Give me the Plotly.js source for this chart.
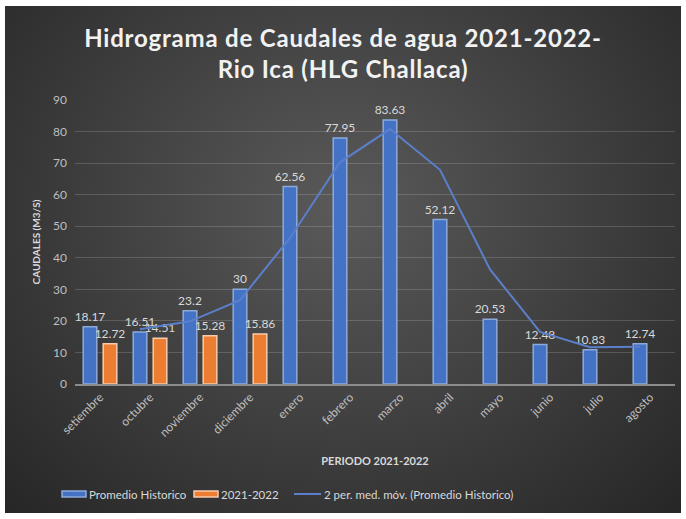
<!DOCTYPE html>
<html>
<head>
<meta charset="utf-8">
<script src="https://cdn.plot.ly/plotly-3.0.1.min.js"></script>
<style>
  html, body { margin: 0; padding: 0; background: #ffffff; }
  #wrap { position: relative; width: 686px; height: 519px; }
  #bg { position: absolute; left: 5px; top: 6px; right: 5px; bottom: 6px;
        background: radial-gradient(ellipse at 50% 40%, #5a5a5a 0%, #404040 50%, #262626 100%); }
  #chart { position: absolute; left: 0; top: 0; width: 686px; height: 519px; }
  #chart .gtitle { letter-spacing: 0.8px; }
</style>
</head>
<body>
<div id="wrap"><div id="bg"></div><div id="chart"></div></div>
<script>
const meses = ["setiembre","octubre","noviembre","diciembre","enero","febrero","marzo","abril","mayo","junio","julio","agosto"];
const promedioHistorico = [18.17, 16.51, 23.2, 30, 62.56, 77.95, 83.63, 52.12, 20.53, 12.48, 10.83, 12.74];
const meses2122 = ["setiembre","octubre","noviembre","diciembre"];
const caudal2122 = [12.72, 14.51, 15.28, 15.86];
const mediaMovilMeses = ["octubre","noviembre","diciembre","enero","febrero","marzo","abril","mayo","junio","julio","agosto"];
const mediaMovil = [17.34, 19.855, 26.6, 46.28, 70.255, 80.79, 67.875, 36.325, 16.505, 11.655, 11.785];
const yTicks = [0,10,20,30,40,50,60,70,80,90];
const seriesNames = ["Promedio Historico", "2021-2022", "2 per. med. móv. (Promedio Historico)"];

const FONT = "Lato, 'Open Sans', sans-serif";
const labelFont = {family: FONT, size: 12, color: "#d9d9d9"};
const BLUE = "#4472c4", BLUE_EDGE = "#8eaadb", ORANGE = "#ed7d31", ORANGE_EDGE = "#f8cbad", LINE = "#5b7fcb";

const traces = [
  {
    type: "bar", name: seriesNames[0],
    x: meses, y: promedioHistorico,
    marker: {color: BLUE, line: {color: BLUE_EDGE, width: 1.5}},
    text: promedioHistorico.map(String), textposition: "outside",
    textfont: labelFont, constraintext: "none", cliponaxis: false
  },
  {
    type: "bar", name: seriesNames[1],
    x: meses2122, y: caudal2122,
    marker: {color: ORANGE, line: {color: ORANGE_EDGE, width: 1.5}},
    text: caudal2122.map(String), textposition: "outside",
    textfont: labelFont, constraintext: "none", cliponaxis: false
  },
  {
    type: "scatter", mode: "lines", name: seriesNames[2],
    x: mediaMovilMeses, y: mediaMovil, xaxis: "x2", yaxis: "y",
    line: {color: LINE, width: 2}
  }
];

// custom legend (paper coordinates; plot area is 600 x 284 px)
const px = v => (v - 75) / 600;
const py = v => (384 - v) / 284;
const legY = 494;
const shapes = [
  {type: "rect", xref: "paper", yref: "paper", x0: px(62), x1: px(86), y0: py(legY + 3), y1: py(legY - 3),
   fillcolor: BLUE, line: {color: BLUE_EDGE, width: 1.5}},
  {type: "rect", xref: "paper", yref: "paper", x0: px(194), x1: px(218), y0: py(legY + 3), y1: py(legY - 3),
   fillcolor: ORANGE, line: {color: ORANGE_EDGE, width: 1.5}},
  {type: "line", xref: "paper", yref: "paper", x0: px(294), x1: px(321), y0: py(legY), y1: py(legY),
   line: {color: LINE, width: 2}}
];
const legFont = {family: FONT, size: 11.5, color: "#d9d9d9"};
const annotations = [
  {xref: "paper", yref: "paper", x: px(87), y: py(legY), text: seriesNames[0], showarrow: false, xanchor: "left", yanchor: "middle", font: legFont},
  {xref: "paper", yref: "paper", x: px(219), y: py(legY), text: seriesNames[1], showarrow: false, xanchor: "left", yanchor: "middle", font: legFont},
  {xref: "paper", yref: "paper", x: px(322), y: py(legY), text: seriesNames[2], showarrow: false, xanchor: "left", yanchor: "middle", font: legFont}
];

const layout = {
  width: 686, height: 519,
  paper_bgcolor: "rgba(0,0,0,0)", plot_bgcolor: "rgba(0,0,0,0)",
  margin: {l: 75, r: 11, t: 100, b: 135},
  font: {family: FONT, color: "#d9d9d9"},
  title: {
    text: "Hidrograma de Caudales de agua 2021-2022-<br>Rio Ica (HLG Challaca)",
    font: {family: FONT, size: 24, color: "#f2f2f2", weight: "bold"},
    x: 0.5, xanchor: "center", y: 0.91, yanchor: "top"
  },
  barmode: "group", bargap: 0.2, bargroupgap: 0.32,
  showlegend: false,
  shapes: shapes, annotations: annotations,
  xaxis: {
    type: "category", categoryorder: "array", categoryarray: meses,
    range: [-0.5, 11.5],
    tickangle: -45, tickfont: {family: FONT, size: 12, color: "#bfbfbf"},
    showgrid: false, showline: true, linecolor: "#8c8c8c", linewidth: 1.5,
    ticks: "", zeroline: false,
    title: {text: "PERIODO 2021-2022", font: {family: FONT, size: 11, color: "#d9d9d9", weight: "bold"}, standoff: 18}
  },
  xaxis2: {
    type: "category", categoryorder: "array", categoryarray: meses,
    overlaying: "x", range: [-0.3, 11.7], visible: false, showgrid: false
  },
  yaxis: {
    range: [0, 90], tickvals: yTicks, ticktext: yTicks.map(String),
    tickfont: {family: FONT, size: 12, color: "#bfbfbf"},
    showgrid: true, gridcolor: "rgba(255,255,255,0.16)", gridwidth: 1,
    zeroline: false, showline: false, ticks: "", ticklen: 0, ticklabelstandoff: 7,
    title: {text: "CAUDALES (M3/S)", font: {family: FONT, size: 10, color: "#d9d9d9", weight: "bold"}, standoff: 10}
  }
};

Plotly.newPlot("chart", traces, layout, {displayModeBar: false, staticPlot: true});
</script>
</body>
</html>
